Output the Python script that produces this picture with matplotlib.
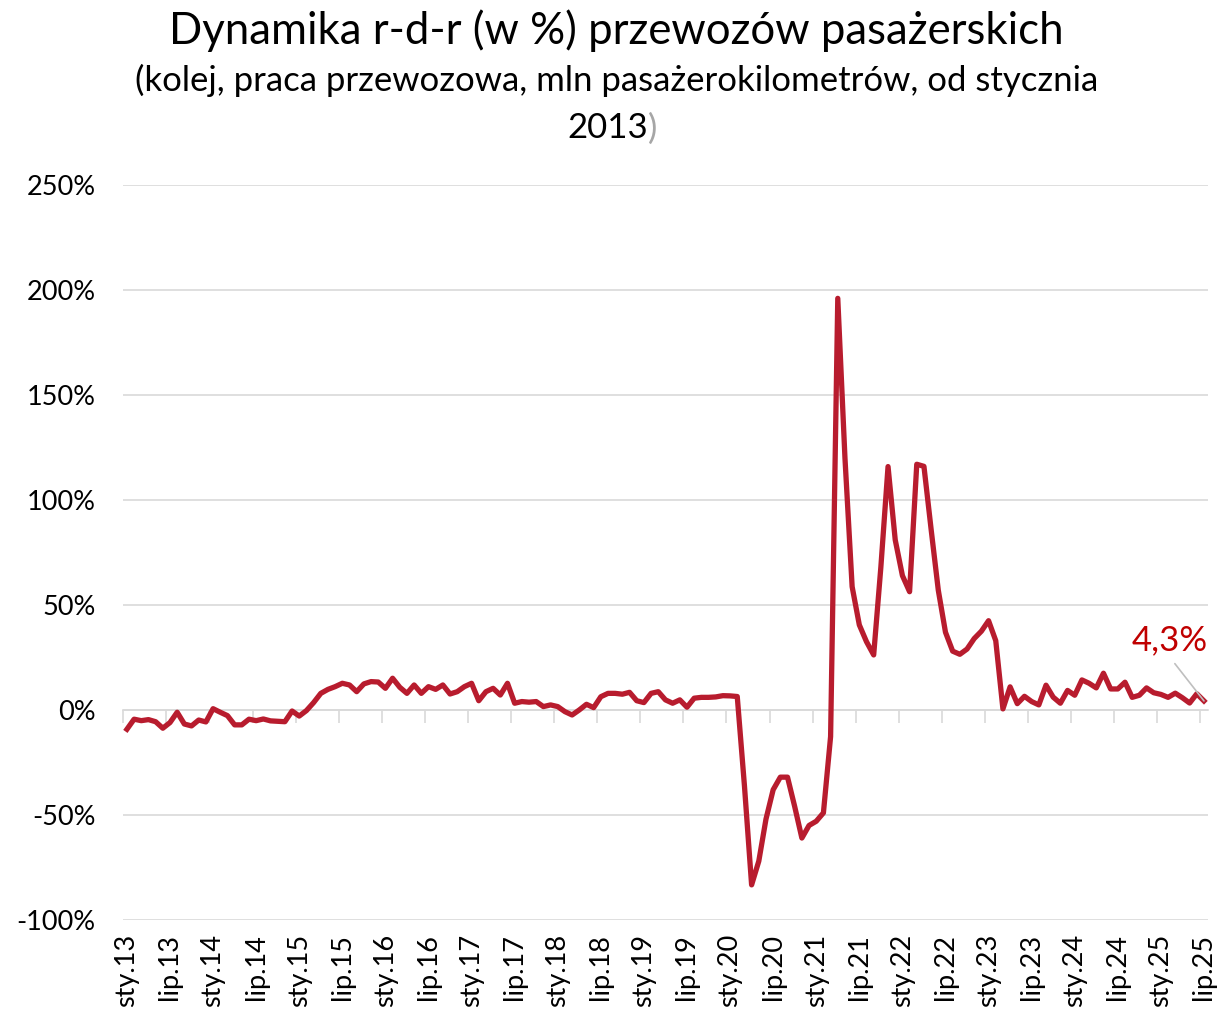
import matplotlib
matplotlib.use("Agg")
import matplotlib.pyplot as plt

plt.rcParams['font.family'] = ['Lato', 'DejaVu Sans']

# dynamika r-d-r w %, od sty.13 do lip.25
dynamika = [
    -9.2, -4.4, -5.1, -4.6, -5.6, -8.7, -6.0, -1.1, -6.7, -7.6, -4.8, -5.7,
    0.6, -1.1, -2.7, -7.1, -7.1, -4.4, -5.1, -4.3, -5.2, -5.4, -5.6, -0.5,
    -2.9, -0.3, 3.5, 7.9, 9.8, 11.1, 12.7, 11.9, 8.7, 12.4, 13.5, 13.3,
    10.3, 15.1, 10.8, 7.9, 11.9, 7.9, 11.1, 9.8, 11.9, 7.6, 8.7, 11.1,
    12.7, 4.4, 8.7, 10.3, 7.1, 12.7, 3.2, 4.0, 3.7, 4.0, 1.6, 2.4,
    1.6, -0.8, -2.4, 0.0, 2.7, 1.1, 6.3, 7.9, 7.9, 7.5, 8.4, 4.4,
    3.5, 7.9, 8.7, 4.8, 3.2, 4.8, 1.3, 5.6, 6.0, 6.0, 6.2, 6.8,
    6.7, 6.4, -36.0, -83.3, -72.0, -52.0, -38.0, -32.0, -32.0, -46.0, -61.0, -55.0,
    -53.0, -49.0, -12.7, 196.0, 120.0, 58.7, 40.5, 32.5, 26.2, 68.0, 115.9, 81.0,
    64.0, 56.3, 117.0, 116.0, 86.0, 57.0, 37.0, 28.0, 26.5, 29.0, 34.0, 37.5,
    42.5, 33.0, 0.5, 11.0, 3.0, 6.5, 4.0, 2.4, 11.8, 6.1, 3.2, 9.3,
    7.0, 14.3, 12.7, 10.5, 17.5, 10.0, 10.0, 13.2, 6.0, 7.0, 10.5, 8.2,
    7.4, 6.0, 8.0, 5.8, 3.3, 7.7, 4.3,
]
etykiety_x = ["sty.13", "lip.13", "sty.14", "lip.14", "sty.15", "lip.15",
              "sty.16", "lip.16", "sty.17", "lip.17", "sty.18", "lip.18",
              "sty.19", "lip.19", "sty.20", "lip.20", "sty.21", "lip.21",
              "sty.22", "lip.22", "sty.23", "lip.23", "sty.24", "lip.24",
              "sty.25", "lip.25"]
poziomy_y = [-100, -50, 0, 50, 100, 150, 200, 250]

x = list(range(len(dynamika)))
n = len(dynamika)

fig = plt.figure(figsize=(12.21, 10.19), dpi=100)
ax = fig.add_axes([0.101, 0.0972, 0.888, 0.7213])

ax.plot(x, dynamika, color="#B81C2E", linewidth=3.8, solid_joinstyle="round", zorder=3)

ax.set_xlim(-0.5, n - 0.5)
ax.set_ylim(-100, 250)

ax.set_yticks(poziomy_y)
ax.set_yticklabels([f"{v}%" for v in poziomy_y])
ax.grid(axis="y", color="#D9D9D9", linewidth=1.2)
ax.set_axisbelow(True)

ax.set_xticks(range(0, n, 6))
ax.set_xticklabels(etykiety_x, rotation=90)
ax.tick_params(axis="x", length=0, pad=10, labelsize=19.5)
ax.tick_params(axis="y", length=0, pad=20, labelsize=19.5)

for s in ax.spines.values():
    s.set_visible(False)

# os kategorii na poziomie 0 z kreskami co 6 miesiecy
os0 = ax.secondary_xaxis(100 / 350)
os0.set_xticks([k - 0.5 for k in range(0, n + 1, 6)])
os0.set_xticklabels([])
os0.tick_params(axis="x", direction="out", length=9, width=1.2, color="#D9D9D9")
os0.spines["bottom"].set_color("#D9D9D9")
os0.spines["bottom"].set_linewidth(1.2)

ax.annotate("4,3%", xy=(x[-1], dynamika[-1]), xytext=(-25, 32),
            textcoords="offset points", ha="center", va="bottom",
            fontsize=25, color="#C00000",
            arrowprops=dict(arrowstyle="-", color="#BFBFBF", lw=1.2,
                            relpos=(0.5, 0), shrinkA=4, shrinkB=0))

fig.text(0.505, 0.97, "Dynamika r-d-r (w %) przewozów pasażerskich",
         ha="center", va="center", fontsize=31.5)
fig.text(0.505, 0.921, "(kolej, praca przewozowa, mln pasażerokilometrów, od stycznia",
         ha="center", va="center", fontsize=25)
fig.text(648 / 1221, 0.874, "2013", ha="right", va="center", fontsize=25)
fig.text(648 / 1221, 0.874, ")", ha="left", va="center", fontsize=25, color="#A6A6A6")

fig.savefig("out.png", dpi=100)
